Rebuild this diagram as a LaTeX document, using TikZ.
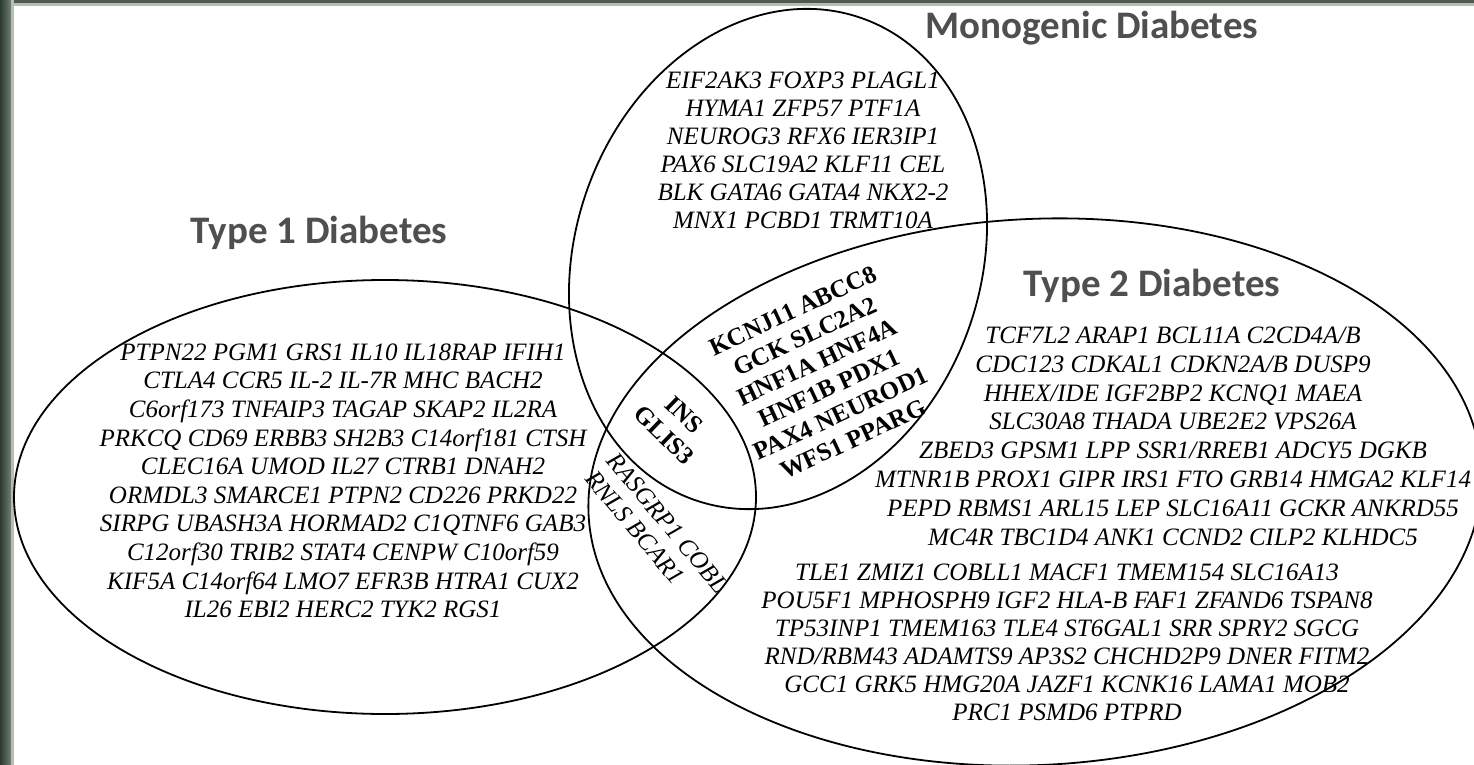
\documentclass[tikz,border=0pt]{standalone}
\usepackage{fontspec}
\setmainfont{Liberation Serif}
\newfontfamily\titlefont{Carlito}
\definecolor{titlegray}{RGB}{78,80,78}
\definecolor{borderdark}{RGB}{45,58,47}
\definecolor{bordermid}{RGB}{112,128,113}
\definecolor{borderlight}{RGB}{180,190,180}
\definecolor{topdark}{RGB}{80,88,80}
\begin{document}
\begin{tikzpicture}[x=1pt,y=-1pt,
  gene/.style={font=\fontsize{25}{28.5}\selectfont\itshape, inner sep=0pt, anchor=base},
  boldgene/.style={font=\fontsize{25}{28.4}\selectfont\bfseries, inner sep=0pt, align=center},
  overlapgene/.style={font=\fontsize{25}{28}\selectfont\itshape, inner sep=0pt, align=left},
  title/.style={font=\titlefont\bfseries\fontsize{39}{44}\selectfont, text=titlegray, inner sep=0pt, anchor=base},
  venn/.style={draw=black, line width=1.8pt}]
\useasboundingbox (0,0) rectangle (1474,765);
\fill[white] (0,0) rectangle (1474,765);
% frame
\fill[topdark] (0,0) rectangle (1474,3);
\fill[borderlight] (0,3) rectangle (1474,6);
\shade[left color=borderdark, right color=bordermid] (0,0) rectangle (11,765);
\fill[borderlight] (11,0) rectangle (14,765);
% ellipses
\draw[venn] (385,497) ellipse [x radius=371, y radius=217];
\draw[venn, rotate around={3:(1035,492)}] (1035,492) ellipse [x radius=447, y radius=273];
\draw[venn, rotate around={71.2:(778,259)}] (778,259) ellipse [x radius=255, y radius=203];
% titles
\node[title, name=ttype1] at (319,243) {Type 1 Diabetes};
\node[title, name=tmono] at (1092,39) {Monogenic Diabetes};
\node[title, name=ttype2] at (1152,296) {Type 2 Diabetes};
% monogenic only
\foreach \g [count=\i] in {EIF2AK3 FOXP3 PLAGL1,
  HYMA1 ZFP57 PTF1A,
  NEUROG3 RFX6 IER3IP1,
  PAX6 SLC19A2 KLF11 CEL,
  BLK GATA6 GATA4 NKX2-2,
  MNX1 PCBD1 TRMT10A}
  {\node[gene, name=mo\i] at (803,{88.3+28*(\i-1)}) {\g};}
% type 1 only
\foreach \g [count=\i] in {PTPN22 PGM1 GRS1 IL10 IL18RAP IFIH1,
  CTLA4 CCR5 IL-2 IL-7R MHC BACH2,
  C6orf173 TNFAIP3 TAGAP SKAP2 IL2RA,
  PRKCQ CD69 ERBB3 SH2B3 C14orf181 CTSH,
  CLEC16A UMOD IL27 CTRB1 DNAH2,
  ORMDL3 SMARCE1 PTPN2 CD226 PRKD22,
  SIRPG UBASH3A HORMAD2 C1QTNF6 GAB3,
  C12orf30 TRIB2 STAT4 CENPW C10orf59,
  KIF5A C14orf64 LMO7 EFR3B HTRA1 CUX2,
  IL26 EBI2 HERC2 TYK2 RGS1}
  {\node[gene, name=ta\i] at (343,{360.3+28.6*(\i-1)}) {\g};}
% type 2 only, upper
\foreach \g [count=\i] in {TCF7L2 ARAP1 BCL11A C2CD4A/B,
  CDC123 CDKAL1 CDKN2A/B DUSP9,
  HHEX/IDE IGF2BP2 KCNQ1 MAEA,
  SLC30A8 THADA UBE2E2 VPS26A,
  ZBED3 GPSM1 LPP SSR1/RREB1 ADCY5 DGKB,
  MTNR1B PROX1 GIPR IRS1 FTO GRB14 HMGA2 KLF14,
  PEPD RBMS1 ARL15 LEP SLC16A11 GCKR ANKRD55,
  MC4R TBC1D4 ANK1 CCND2 CILP2 KLHDC5}
  {\node[gene, name=tb\i] at (1173,{343.3+28.85*(\i-1)}) {\g};}
% type 2 only, lower
\foreach \g [count=\i] in {TLE1 ZMIZ1 COBLL1 MACF1 TMEM154 SLC16A13,
  POU5F1 MPHOSPH9 IGF2 HLA-B FAF1 ZFAND6 TSPAN8,
  TP53INP1 TMEM163 TLE4 ST6GAL1 SRR SPRY2 SGCG,
  RND/RBM43 ADAMTS9 AP3S2 CHCHD2P9 DNER FITM2,
  GCC1 GRK5 HMG20A JAZF1 KCNK16 LAMA1 MOB2,
  PRC1 PSMD6 PTPRD}
  {\node[gene, name=tc\i] at (1067,{580.3+28*(\i-1)}) {\g};}
% overlaps
\node[boldgene, rotate=25, name=monotwo] at (823,375)
  {KCNJ11 ABCC8\\GCK SLC2A2\\HNF1A HNF4A\\HNF1B PDX1\\PAX4 NEUROD1\\WFS1 PPARG};
\node[boldgene, rotate=-44, name=triple] at (674,425) {INS\\GLIS3};
\node[overlapgene, rotate=-50, name=onetwo] at (657,532) {RASGRP1 COBL\\RNLS BCAR1};
\end{tikzpicture}
\end{document}
